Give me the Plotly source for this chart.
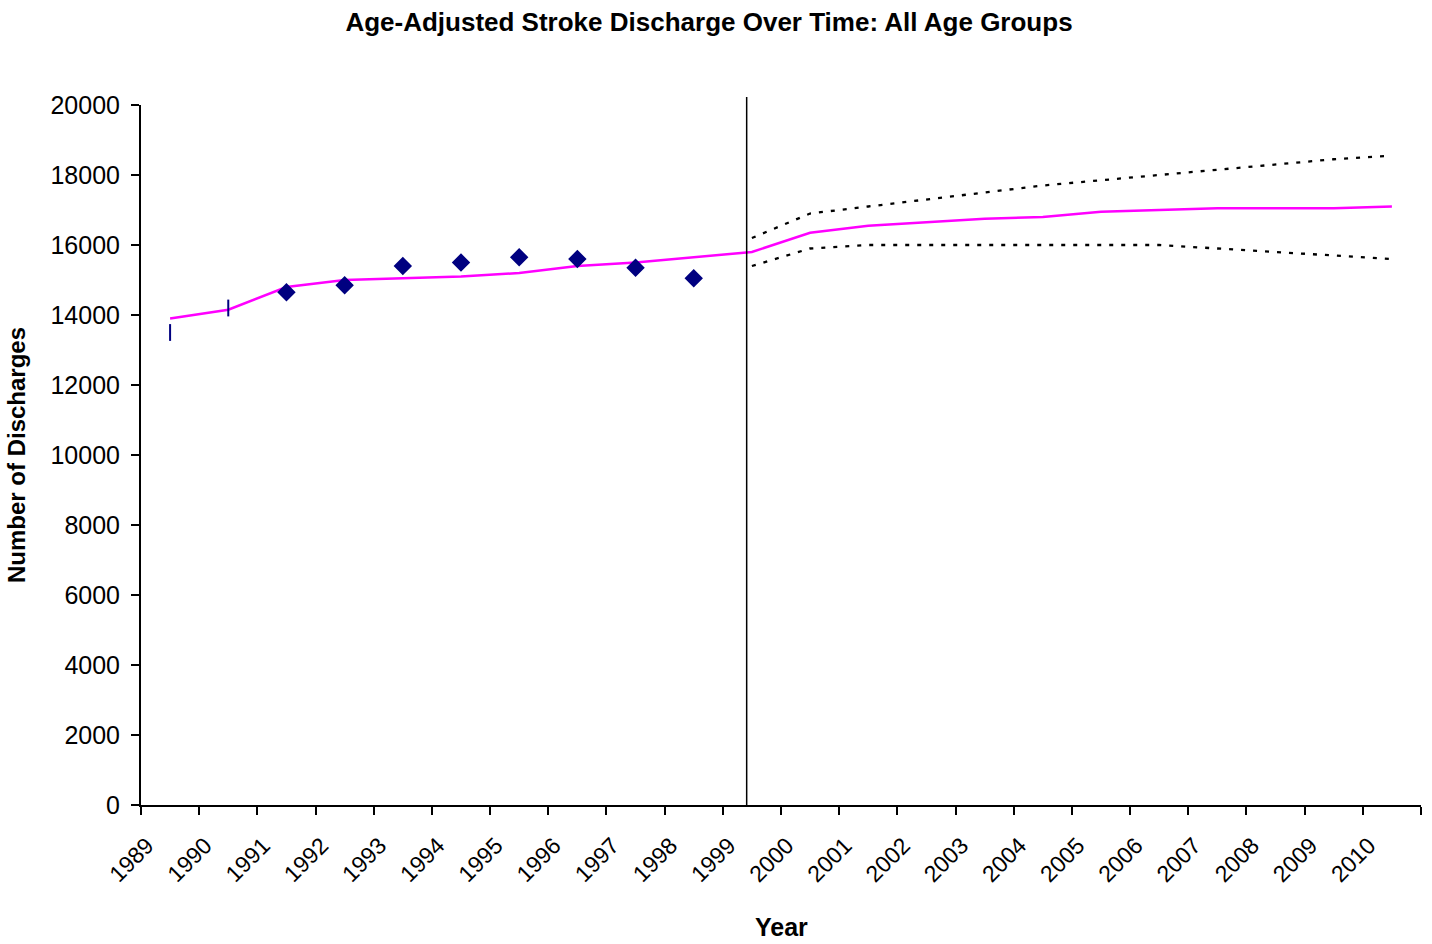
import plotly.graph_objects as go

# Calendar years on the category axis
years = [str(y) for y in range(1989, 2011)]

# Observed age-adjusted discharges (1989-1998)
observed_years = years[:10]
observed = [13500, 14200, 14650, 14850, 15400, 15500, 15650, 15600, 15350, 15050]
observed_symbols = ["line-ns", "line-ns", "diamond", "diamond", "diamond",
                    "diamond", "diamond", "diamond", "diamond", "diamond"]

# Fitted / projected trend (1989-2010)
trend = [13900, 14150, 14800, 15000, 15050, 15100, 15200, 15400, 15500, 15650,
         15800, 16350, 16550, 16650, 16750, 16800, 16950, 17000, 17050, 17050,
         17050, 17100]

# Projection bounds (1999-2010)
bound_years = years[10:]
upper = [16200, 16900, 17100, 17300, 17500, 17700, 17850, 18000, 18150, 18300,
         18450, 18550]
lower = [15400, 15900, 16000, 16000, 16000, 16000, 16000, 16000, 15900, 15800,
         15700, 15600]

# Position (in category units) of the divider between data and projection
divider_pos = 10.41

n_cat = len(years)

W, H = 1432, 944
M_L, M_R, M_T, M_B = 141, 11, 105, 139
plot_h = H - M_T - M_B


def centers(labels):
    return [years.index(y) + 0.5 for y in labels]


font = "Liberation Sans, Arial, sans-serif"

fig = go.Figure()

fig.add_trace(go.Scatter(
    x=centers(years), y=trend, mode="lines",
    line=dict(color="#FF00FF", width=2.5), showlegend=False,
))
fig.add_trace(go.Scatter(
    x=centers(bound_years), y=upper, mode="lines",
    line=dict(color="black", width=2.3, dash="4px,8px"), showlegend=False,
))
fig.add_trace(go.Scatter(
    x=centers(bound_years), y=lower, mode="lines",
    line=dict(color="black", width=2.3, dash="4px,8px"), showlegend=False,
))
fig.add_trace(go.Scatter(
    x=centers(observed_years), y=observed, mode="markers",
    marker=dict(symbol=observed_symbols, size=12, color="#000080",
                line=dict(color="#000080", width=2)),
    showlegend=False,
))

fig.add_shape(
    type="line", xref="paper", yref="paper",
    x0=divider_pos / n_cat, x1=divider_pos / n_cat, y0=0, y1=1 + 8 / plot_h,
    line=dict(color="black", width=1.5),
)

# x-axis title placed below the rotated year labels
fig.add_annotation(
    text="<b>Year</b>", xref="paper", yref="paper",
    x=0.5, y=-(927 - (H - M_B)) / plot_h, xanchor="center", yanchor="middle",
    showarrow=False, font=dict(family=font, size=25, color="black"),
)

fig.update_layout(
    width=W, height=H,
    margin=dict(l=M_L, r=M_R, t=M_T, b=M_B),
    paper_bgcolor="white", plot_bgcolor="white",
    font=dict(family=font, color="black", size=22),
    title=dict(
        text="<b>Age-Adjusted Stroke Discharge Over Time: All Age Groups</b>",
        x=709 / W, xanchor="center", y=1 - 22 / H, yanchor="middle",
        font=dict(family=font, size=26, color="black"),
    ),
    xaxis=dict(
        range=[0, n_cat], tickmode="array",
        tickvals=list(range(n_cat + 1)), ticktext=years + [""],
        tickangle=-45, ticks="outside", ticklen=8, tickwidth=2,
        tickcolor="black", showline=True, linecolor="black", linewidth=2,
        showgrid=False, zeroline=False, automargin=False,
        tickfont=dict(size=23), ticklabelstandoff=8, ticklabelshift=6,
    ),
    yaxis=dict(
        range=[0, 20000], tickmode="linear", tick0=0, dtick=2000,
        tickformat="d",
        ticks="outside", ticklen=8, tickwidth=2, tickcolor="black",
        showline=True, linecolor="black", linewidth=2,
        showgrid=False, zeroline=False,
        tickfont=dict(size=25), ticklabelstandoff=6,
        title=dict(text="<b>Number of Discharges</b>", font=dict(size=24),
                   standoff=18),
    ),
)

fig.write_html("out.html")
